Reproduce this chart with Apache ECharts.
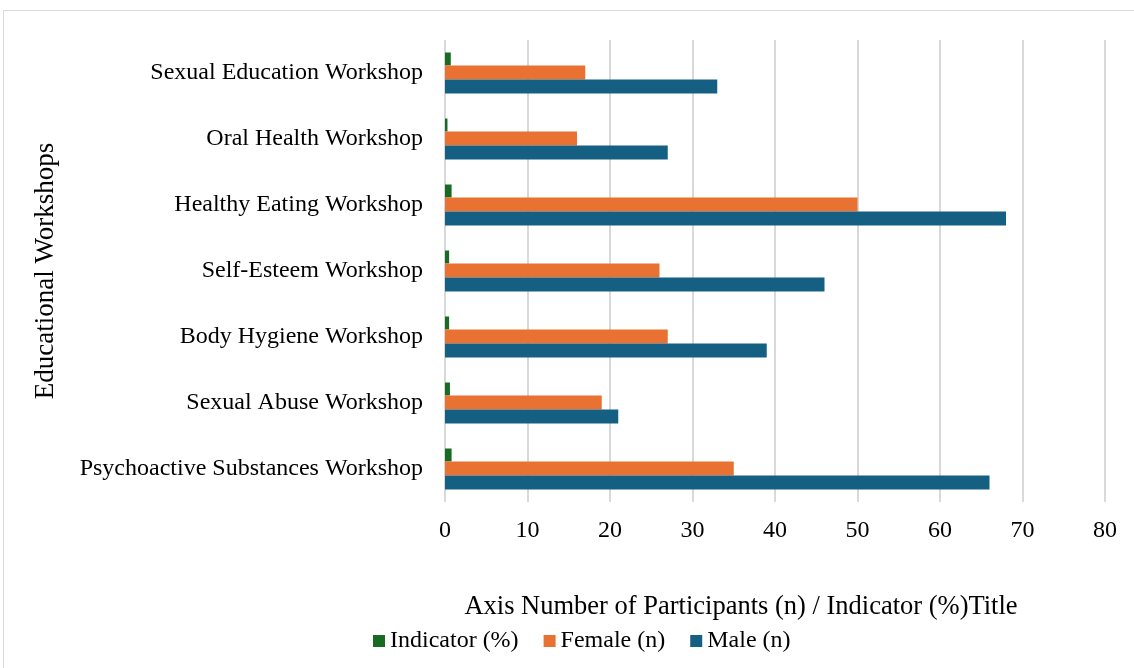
<!DOCTYPE html>
<html>
<head>
<meta charset="utf-8">
<script src="https://cdn.jsdelivr.net/npm/echarts@6/dist/echarts.min.js"></script>
<style>
  html, body { margin: 0; padding: 0; background: #fff; }
  #frame { position: absolute; left: 3px; top: 10px; width: 1140px; height: 700px; border: 1px solid #d9d9d9; }
  #chart { position: absolute; left: 0; top: 0; width: 1134px; height: 668px; }
</style>
</head>
<body>
<div id="frame"></div>
<div id="chart"></div>
<script>
// categories, bottom to top as the axis draws them
var workshops = [
    'Psychoactive Substances Workshop',
    'Sexual Abuse Workshop',
    'Body Hygiene Workshop',
    'Self-Esteem Workshop',
    'Healthy Eating Workshop',
    'Oral Health Workshop',
    'Sexual Education Workshop'
];
var maleN = [66, 21, 39, 46, 68, 27, 33];
var femaleN = [35, 19, 27, 26, 50, 16, 17];
var indicatorPct = [0.8, 0.6, 0.5, 0.5, 0.8, 0.3, 0.7];
var xTicks = { min: 0, max: 80, interval: 10 };

var chart = echarts.init(document.getElementById('chart'));
var serif = '"Liberation Serif", "Times New Roman", serif';

var option = {
    animation: false,
    textStyle: { fontFamily: serif },
    grid: { left: 445, right: 29, top: 40, bottom: 166 },
    legend: {
        data: ['Indicator (%)', 'Female (n)', 'Male (n)'],
        left: 368,
        top: 624,
        icon: 'rect',
        itemWidth: 12,
        itemHeight: 12,
        itemGap: 25,
        textStyle: { fontFamily: serif, fontSize: 24, color: '#000' }
    },
    xAxis: {
        type: 'value',
        min: xTicks.min,
        max: xTicks.max,
        interval: xTicks.interval,
        name: 'Axis Number of Participants (n) / Indicator (%)Title',
        nameLocation: 'middle',
        nameGap: 92,
        // title sits a bit left of the plot centre in the original
        nameTextStyle: { fontFamily: serif, fontSize: 26.5, color: '#000', padding: [0, 68, 0, 0] },
        axisLine: { show: false },
        axisTick: { show: false },
        axisLabel: { fontFamily: serif, fontSize: 24, color: '#000', margin: 17 },
        splitLine: { lineStyle: { color: '#d9d9d9', width: 2 } }
    },
    yAxis: {
        type: 'category',
        data: workshops,
        name: 'Educational Workshops',
        nameLocation: 'middle',
        nameGap: 386,
        nameTextStyle: { fontFamily: serif, fontSize: 27, color: '#000' },
        axisLine: { show: false },
        axisTick: { show: false },
        axisLabel: { fontFamily: serif, fontSize: 24, color: '#000', margin: 22 }
    },
    series: [
        {
            name: 'Indicator (%)',
            type: 'bar',
            data: indicatorPct,
            barWidth: 13,
            barGap: '0%',
            barCategoryGap: '36%',
            itemStyle: { color: '#196b24' }
        },
        {
            name: 'Female (n)',
            type: 'bar',
            data: femaleN,
            barWidth: 14,
            barGap: '0%',
            itemStyle: { color: '#e97132' }
        },
        {
            name: 'Male (n)',
            type: 'bar',
            data: maleN,
            barWidth: 14,
            barGap: '0%',
            itemStyle: { color: '#156082' }
        }
    ]
};

chart.setOption(option);
</script>
</body>
</html>
